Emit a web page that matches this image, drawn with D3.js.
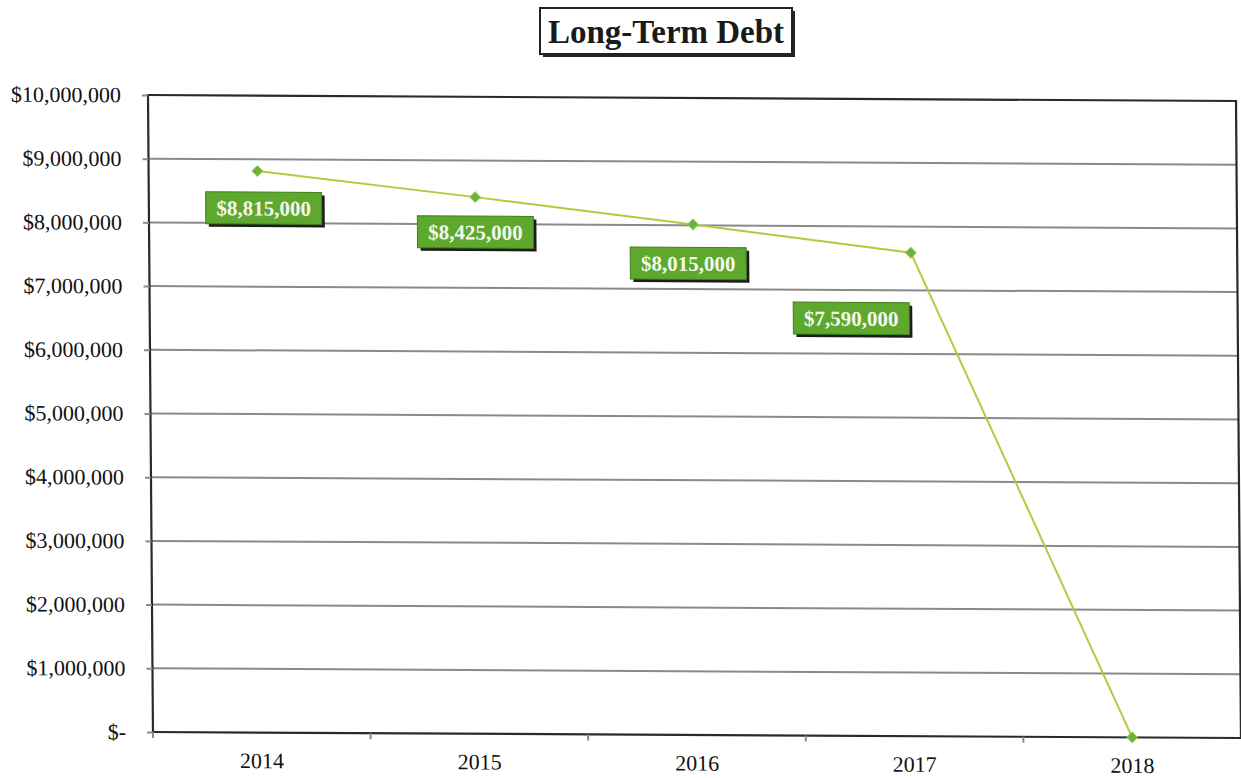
<!DOCTYPE html>
<html>
<head>
<meta charset="utf-8">
<script src="https://cdn.jsdelivr.net/npm/d3@7"></script>
<style>
  body { margin: 0; background: #fff; }
  svg { display: block; }
</style>
</head>
<body>
<div id="root"></div>
<script>
// Long-term debt by year
const years = ["2014", "2015", "2016", "2017", "2018"];
const debt = [8815000, 8425000, 8015000, 7590000, 0];
const yTicks = [0, 1000000, 2000000, 3000000, 4000000, 5000000, 6000000, 7000000, 8000000, 9000000, 10000000];
// where each data label box sits relative to its point (null = no label)
const labelOffsets = [[6, 37], [0, 35], [-5, 39], [-60, 66], null];

const w = 1241;
const h = 778;
const pLeft = 148, pRight = 1236, pTop = 95, pBottom = 732;

const svg = d3.select("#root")
  .append("svg")
  .attr("width", w)
  .attr("height", h);

// the printed page is slightly skewed, so the plot is drawn through a small shear
const g = svg.append("g")
  .attr("transform", `translate(${pLeft},${pTop}) matrix(1,0.0055,0.0078,1,0,0) translate(${-pLeft},${-pTop})`);

const x = d3.scaleBand().domain(years).range([pLeft, pRight]);
const y = d3.scaleLinear().domain([0, 10000000]).range([pBottom, pTop]);

const money = d3.format(",");
const tickFmt = d => d === 0 ? "$-" : "$" + money(d);

// gridlines
g.append("g")
  .selectAll("line")
  .data(yTicks.filter(d => d > 0 && d < 10000000))
  .enter()
  .append("line")
  .attr("x1", pLeft)
  .attr("x2", pRight)
  .attr("y1", d => y(d))
  .attr("y2", d => y(d))
  .attr("stroke", "#8a8a8a")
  .attr("stroke-width", 2);

// plot frame
g.append("rect")
  .attr("x", pLeft)
  .attr("y", pTop)
  .attr("width", pRight - pLeft)
  .attr("height", pBottom - pTop)
  .attr("fill", "none")
  .attr("stroke", "#2a2a2a")
  .attr("stroke-width", 2.2);

// y axis
const yAxis = g.append("g")
  .attr("transform", `translate(${pLeft},0)`)
  .call(d3.axisLeft(y).tickValues(yTicks).tickSize(6).tickPadding(21).tickFormat(tickFmt));
yAxis.select(".domain").remove();
yAxis.selectAll("line").attr("stroke", "#8a8a8a").attr("stroke-width", 2);
yAxis.selectAll("text")
  .style("font-family", "'Liberation Serif', 'Times New Roman', serif")
  .style("font-size", "22px")
  .attr("fill", "#111");

// x axis: labels at band centres, tick marks at band edges
const xAxis = g.append("g")
  .attr("transform", `translate(0,${pBottom})`)
  .call(d3.axisBottom(x).tickSize(0).tickPadding(20));
xAxis.select(".domain").remove();
xAxis.selectAll("text")
  .style("font-family", "'Liberation Serif', 'Times New Roman', serif")
  .style("font-size", "22px")
  .attr("fill", "#111");

g.append("g")
  .selectAll("line")
  .data(years)
  .enter()
  .append("line")
  .attr("x1", d => x(d))
  .attr("x2", d => x(d))
  .attr("y1", pBottom)
  .attr("y2", pBottom + 6)
  .attr("stroke", "#8a8a8a")
  .attr("stroke-width", 2);

// series line
const points = years.map((yr, i) => ({ yr, v: debt[i], off: labelOffsets[i] }));
const line = d3.line()
  .x(d => x(d.yr) + x.bandwidth() / 2)
  .y(d => y(d.v));

g.append("path")
  .datum(points)
  .attr("d", line)
  .attr("fill", "none")
  .attr("stroke", "#b8c73c")
  .attr("stroke-width", 2);

// diamond markers
g.selectAll(".marker")
  .data(points)
  .enter()
  .append("path")
  .attr("class", "marker")
  .attr("d", d3.symbol().type(d3.symbolDiamond2).size(70))
  .attr("transform", d => `translate(${x(d.yr) + x.bandwidth() / 2},${y(d.v)})`)
  .attr("fill", "#6ab23a")
  .attr("stroke", "#8cc04a")
  .attr("stroke-width", 1);

// data labels
const boxW = 116, boxH = 32;
const labels = g.selectAll(".label")
  .data(points.filter(d => d.off))
  .enter()
  .append("g")
  .attr("class", "label")
  .attr("transform", d => `translate(${x(d.yr) + x.bandwidth() / 2 + d.off[0]},${y(d.v) + d.off[1]})`);

labels.append("rect")
  .attr("x", -boxW / 2 + 3)
  .attr("y", -boxH / 2 + 3)
  .attr("width", boxW)
  .attr("height", boxH)
  .attr("fill", "#1c1c1c");

labels.append("rect")
  .attr("x", -boxW / 2)
  .attr("y", -boxH / 2)
  .attr("width", boxW)
  .attr("height", boxH)
  .attr("fill", "#5ea82e")
  .attr("stroke", "#3f7f1c")
  .attr("stroke-width", 1);

labels.append("text")
  .attr("text-anchor", "middle")
  .attr("dy", "0.35em")
  .style("font-family", "'Liberation Serif', 'Times New Roman', serif")
  .style("font-size", "21px")
  .style("font-weight", "bold")
  .attr("fill", "#f4f8ee")
  .text(d => "$" + money(d.v));

// title box
const title = svg.append("g").attr("transform", "translate(667,32)");
title.append("rect")
  .attr("x", -124)
  .attr("y", -21)
  .attr("width", 252)
  .attr("height", 46)
  .attr("fill", "#222");
title.append("rect")
  .attr("x", -127)
  .attr("y", -24)
  .attr("width", 252)
  .attr("height", 46)
  .attr("fill", "#fff")
  .attr("stroke", "#222")
  .attr("stroke-width", 2);
title.append("text")
  .attr("x", -1)
  .attr("y", 11)
  .attr("text-anchor", "middle")
  .style("font-family", "'Liberation Serif', 'Times New Roman', serif")
  .style("font-size", "33px")
  .style("font-weight", "bold")
  .attr("fill", "#1a1a1a")
  .text("Long-Term Debt");
</script>
</body>
</html>
